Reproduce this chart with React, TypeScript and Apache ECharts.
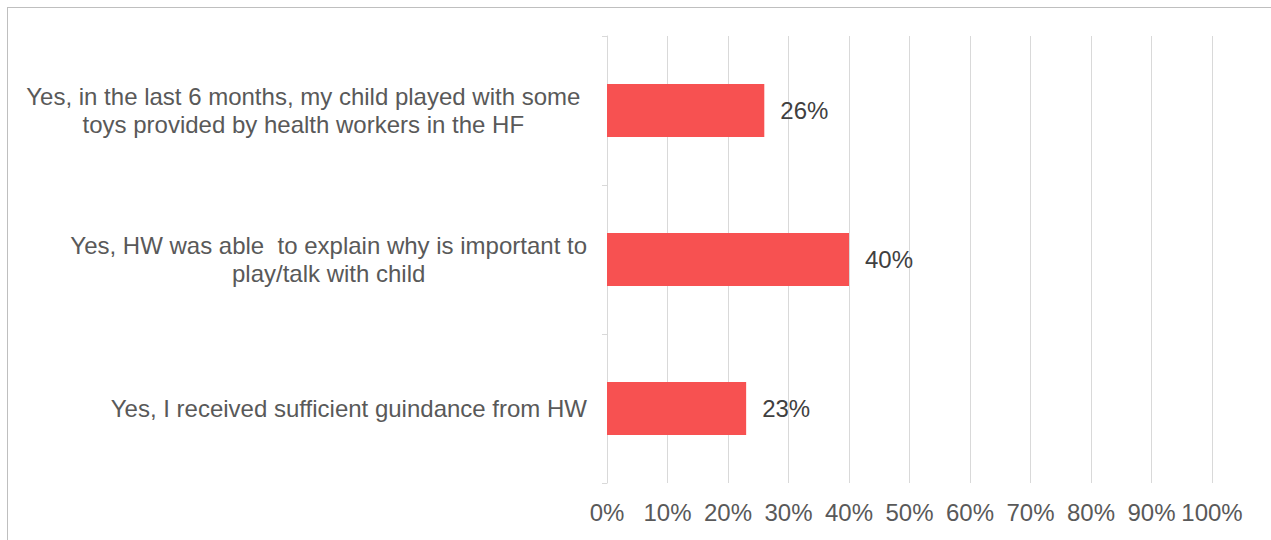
import React, { useEffect, useRef } from "react";
import * as echarts from "echarts";

const categories = [
  "Yes, I received sufficient guindance from HW",
  "Yes, HW was able  to explain why is important to\nplay/talk with child",
  "Yes, in the last 6 months, my child played with some \ntoys provided by health workers in the HF ",
];
const values = [23, 40, 26];
const xTicks = { min: 0, max: 100, interval: 10 };

export default function App() {
  const ref = useRef<HTMLDivElement>(null);
  useEffect(() => {
    if (!ref.current) return;
    const chart = echarts.init(ref.current, null, { renderer: "svg" });
    chart.setOption({
      animation: false,
      textStyle: { fontFamily: "Liberation Sans, Arial, sans-serif" },
      grid: { left: 607, right: 59, top: 36, bottom: 57, containLabel: false },
      xAxis: {
        type: "value",
        min: xTicks.min,
        max: xTicks.max,
        interval: xTicks.interval,
        axisLine: { show: false },
        axisTick: { show: false },
        splitLine: { show: true, lineStyle: { color: "#d9d9d9", width: 1 } },
        axisLabel: {
          formatter: "{value}%",
          color: "#595959",
          fontSize: 24,
          margin: 17,
        },
      },
      yAxis: {
        type: "category",
        data: categories,
        axisLine: { show: true, lineStyle: { color: "#d9d9d9", width: 1 } },
        axisTick: { show: true, length: 5, lineStyle: { color: "#d9d9d9" } },
        axisLabel: {
          margin: 20,
          color: "#595959",
          fontSize: 24,
          lineHeight: 28,
          formatter: (v: string) =>
            v
              .split("\n")
              .map((l) => "{c|" + l + "}")
              .join("\n"),
          rich: {
            c: {
              align: "center",
              color: "#595959",
              fontSize: 24,
              lineHeight: 28,
              fontFamily: "Liberation Sans, Arial, sans-serif",
            },
          },
        },
      },
      series: [
        {
          type: "bar",
          data: values,
          barWidth: 53,
          itemStyle: { color: "#F75151" },
          label: {
            show: true,
            position: "right",
            distance: 16,
            formatter: "{c}%",
            color: "#404040",
            fontSize: 24,
          },
        },
      ],
    });
    return () => chart.dispose();
  }, []);
  return (
    <div
      style={{
        position: "fixed",
        left: 0,
        top: 0,
        width: 1271,
        height: 540,
        background: "#fff",
      }}
    >
      <div
        style={{
          position: "absolute",
          left: 7,
          top: 7,
          width: 1300,
          height: 600,
          border: "1px solid #bfbfbf",
          boxSizing: "border-box",
        }}
      />
      <div
        ref={ref}
        style={{ position: "absolute", left: 0, top: 0, width: 1271, height: 540 }}
      />
    </div>
  );
}
